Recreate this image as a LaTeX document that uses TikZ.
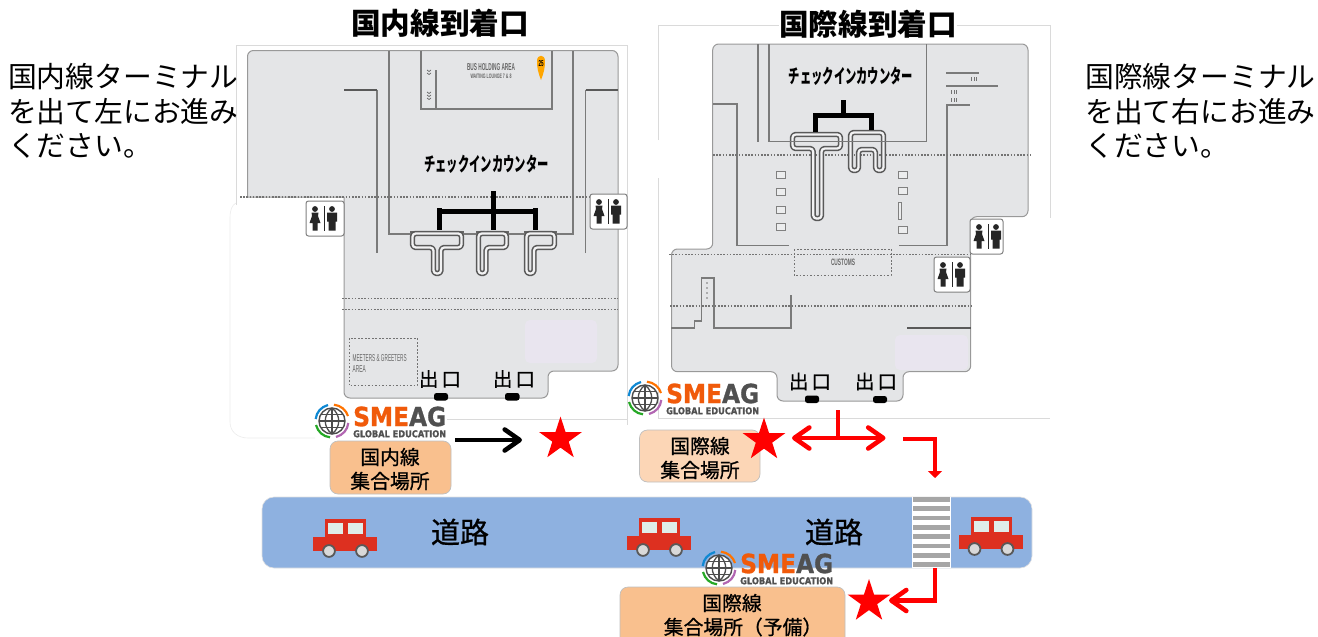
\documentclass[tikz,border=0pt]{standalone}
\usepackage{graphicx}
\usepackage{fontspec}
\setmainfont{Liberation Sans}
\newfontfamily\cjk{Noto Sans CJK JP}
\newfontfamily\cjkm[FakeBold=0.8]{Noto Sans CJK JP}
\newfontfamily\logof[FakeBold=1.2]{DejaVu Sans}
\usetikzlibrary{shapes.geometric,arrows.meta}
\definecolor{floorc}{HTML}{E4E5E7}
\definecolor{wallc}{HTML}{7A7A7A}
\definecolor{roadc}{HTML}{8EB1E0}
\definecolor{boxa}{HTML}{F9C08E}
\definecolor{boxb}{HTML}{FCD6B6}
\definecolor{carc}{HTML}{DD3020}
\definecolor{winc}{HTML}{DFEDE9}
\definecolor{lav}{HTML}{E9E5EF}
\definecolor{paper}{HTML}{DADADA}
\definecolor{smo}{HTML}{F05A0A}
\definecolor{smg}{HTML}{505050}
\tikzset{
 floorp/.style={fill=floorc,draw=gray!80,line width=1pt},
 wall/.style={draw=wallc,line width=1.4pt},
 thickwall/.style={draw=black!65,line width=2.4pt},
 dotline/.style={draw=black!55,line width=1.2pt,dash pattern=on 1.5pt off 1.7pt},
 dashbox/.style={draw=black!55,line width=1pt,dash pattern=on 1.6pt off 1.9pt},
 counterb/.style={draw=black!65,line width=1.6pt,double=floorc!50!white,double distance=2.2pt,rounded corners=3.2pt,line join=round},
 stem/.style={draw=black,line width=5pt},
 exitpill/.style={fill=black,rounded corners=2.5pt},
 sideT/.style={anchor=west,inner sep=0pt,font=\cjk\fontsize{28.8}{32}\selectfont},
 titleT/.style={inner sep=0pt,font=\cjk\bfseries\fontsize{29.6}{32}\selectfont,fill=white},
 checkT/.style={inner sep=0pt,font=\cjk\bfseries\fontsize{19.5}{20}\selectfont},
 exitT/.style={inner sep=0pt,font=\cjkm\fontsize{19.5}{22}\selectfont},
 placebox/.style={draw=black!25,line width=.7pt,rounded corners=8pt},
 placeT/.style={inner sep=0pt,font=\cjkm\fontsize{19.8}{24}\selectfont},
 roadT/.style={inner sep=0pt,font=\cjkm\fontsize{29}{32}\selectfont},
 tinyT/.style={inner sep=0pt,text=black!60},
 redstar/.style={star,star points=5,star point ratio=2.618,fill=red,draw=none,minimum size=45pt,inner sep=0pt},
 redarrow/.style={draw=red,line width=4.8pt},
}
\newcommand{\chk}[3]{\node[checkT] (#1) at (#2,#3) {\scalebox{0.58}[1]{チェックインカウンター}};}
\newcommand{\wcbox}[3]{%
 \begin{scope}[shift={(#1,#2)}]
  \draw[fill=white,draw=black!50,line width=1pt,rounded corners=2.5pt] (0,0) rectangle (#3,35);
  \fill[black!85] (9,8) circle (2.9);
  \fill[black!85] (5.5,11.5) -- (12.5,11.5) -- (12,15) -- (14.5,22) -- (11.5,22) -- (11.5,29.5) -- (6.5,29.5) -- (6.5,22) -- (3.5,22) -- (6,15) -- cycle;
  \fill[black!85] (17.5,5) rectangle (19,30);
  \fill[black!85] (26,8) circle (2.9);
  \fill[black!85] (21,11.5) -- (31,11.5) -- (31,20.5) -- (29.5,20.5) -- (29.5,29.5) -- (22.5,29.5) -- (22.5,20.5) -- (21,20.5) -- cycle;
 \end{scope}}
\newcommand{\smeag}[3]{%
 \begin{scope}[shift={(#2,#3)}]
  \draw[fill=white,draw=black!70,line width=1.4pt] (0,0) circle (13);
  \draw[black!70,line width=1.3pt] (0,-13) -- (0,13) (-13,0) -- (13,0) (-11.3,-6.3) -- (11.3,-6.3) (-11.3,6.3) -- (11.3,6.3);
  \draw[black!70,line width=1.3pt] (0,-13) .. controls (-9,-6) and (-9,6) .. (0,13);
  \draw[black!70,line width=1.3pt] (0,-13) .. controls (9,-6) and (9,6) .. (0,13);
  \draw[cyan!70!blue,line width=2.2pt] (-16.3,-2) .. controls (-15.5,-9) and (-11,-14) .. (-4,-16);
  \draw[orange!90!red,line width=2.2pt] (2,-16.3) .. controls (9,-15.5) and (14,-11) .. (16,-5);
  \draw[violet!60,line width=2.2pt] (16.3,2) .. controls (15.5,9) and (11,14) .. (4,16);
  \draw[green!60!black!85,line width=2.2pt] (-2,16.3) .. controls (-9,15.5) and (-14,11) .. (-16,4);
  \node[inner sep=0pt,anchor=west] (#1a) at (21,-4.5) {\resizebox{93pt}{19.5pt}{\logof\textbf{\textcolor{smo}{SME}\textcolor{smg}{AG}}}};
  \node[inner sep=0pt,anchor=west] (#1b) at (21,12.8) {\resizebox{93pt}{7pt}{\logof\textbf{\textcolor{smg}{GLOBAL EDUCATION}}}};
 \end{scope}}
\newcommand{\car}[2]{%
 \begin{scope}[shift={(#1,#2)}]
  \fill[carc] (0,18) rectangle (64,32);
  \fill[carc] (12,0) rectangle (53,19);
  \fill[winc] (15,4) rectangle (30,15);
  \fill[winc] (35,4) rectangle (50,15);
  \draw[fill=black!15,draw=black!65,line width=1.8pt] (16,32) circle (5.9);
  \draw[fill=black!15,draw=black!65,line width=1.8pt] (49,32) circle (5.9);
 \end{scope}}
\begin{document}
\begin{tikzpicture}[x=1pt,y=-1pt]
\useasboundingbox (0,0) rectangle (1318,637);
% paper edges
\draw[paper,line width=.8pt] (236,205) -- (236,45) -- (627,45) -- (627,425);
\draw[paper,line width=.8pt] (447,419) -- (627,419);
\draw[black!8,line width=.6pt] (236,203) .. controls (232,205) and (230,210) .. (230,218) -- (230,422) .. controls (230,432) and (238,438) .. (248,438) -- (315,438);
\draw[paper,line width=.8pt] (658,140) -- (658,25) -- (1050,25) -- (1050,218);
\draw[paper,line width=.8pt] (658,178) -- (658,418) -- (1050,418);
% domestic floor
\draw[floorp] (344,197) -- (247.5,197) [rounded corners=6pt] -- (247.5,50.5) -- (618,50.5) -- (618,371) -- (548,371) -- (548,398) -- (344,398) -- (344,197);
\fill[lav] (525,320) [rounded corners=5pt] rectangle (597,363);
\draw[wall] (389,50.5) -- (389,234) -- (573,234) -- (573,50.5);
\draw[wall] (421,50.5) -- (421,109) -- (552,109) -- (552,50.5);
\draw[wall] (436,70) -- (436,109);
\draw[wall] (377,90) -- (377,253);
\draw[thickwall] (344,90) -- (377,90);
\draw[wall] (585.5,253) -- (585.5,90);
\draw[thickwall] (585.5,90) -- (618,90);
\draw[dotline] (240,197) -- (618,197);
\draw[dotline] (342,298.6) -- (618,298.6);
\draw[dotline] (342,309.5) -- (618,309.5);
\draw[dashbox] (349,338) rectangle (417,385.5);
\node[tinyT,anchor=west] (meet) at (352.5,358.5) {\resizebox{54pt}{7pt}{MEETERS \& GREETERS}};
\node[tinyT,anchor=west] (meeta) at (352.5,369) {\resizebox{13pt}{7pt}{AREA}};
\node[tinyT] (bus) at (491,67.5) {\resizebox{48pt}{7pt}{\textbf{BUS HOLDING AREA}}};
\node[tinyT] (lounge) at (491,76.5) {\resizebox{41pt}{4.5pt}{\textbf{WAITING LOUNGE 7 \& 8}}};
\foreach \yy in {70,73,92,95,98}{\draw[black!60,line width=.7pt] (427,\yy) -- (429,\yy+1.5) -- (431,\yy);}
\fill[orange!70!yellow] (541,80) .. controls (538,72) and (537,68) .. (537,61) .. controls (537,54) and (545,54) .. (545,61) .. controls (545,68) and (544,72) .. (541,80) -- cycle;
\node[inner sep=0pt] (pin) at (541,64) {\resizebox{5pt}{6pt}{\textbf{25}}};
\draw[black!60,line width=2pt] (410,231.5) -- (464,231.5) (476,231.5) -- (509,231.5) (524,231.5) -- (557,231.5);
\draw[counterb] (412.5,233.5) -- (461.5,233.5) -- (461.5,247.5) -- (441,247.5) -- (441,273.5) -- (433.5,273.5) -- (433.5,247.5) -- (412.5,247.5) -- cycle;
\draw[counterb] (478.5,233.5) -- (506.5,233.5) -- (506.5,247.5) -- (486,247.5) -- (486,273.5) -- (478.5,273.5) -- cycle;
\draw[counterb] (526.5,233.5) -- (554.5,233.5) -- (554.5,247.5) -- (534,247.5) -- (534,273.5) -- (526.5,273.5) -- cycle;
\draw[stem] (493,191) -- (493,230);
\draw[stem] (439,211) -- (535,211);
\draw[stem] (439,208) -- (439,230);
\draw[stem] (535,208) -- (535,230);
\chk{chkd}{486.5}{164}
\wcbox{306}{201}{38}
\wcbox{590}{194}{37}
\node[exitT] (exa) at (440,379) {出\hspace{3pt}口};
\node[exitT] (exb) at (514,379) {出\hspace{3pt}口};
\fill[exitpill] (434,393) rectangle (448,400.5);
\fill[exitpill] (505,393) rectangle (519.5,400.5);
% international floor
\draw[floorp,rounded corners=6pt] (671.5,306) -- (671.5,249) -- (712.7,249) -- (712.7,44) -- (1028,44) -- (1028,216.7) -- (970.7,216.7) -- (970.7,371.7) -- (903,371.7) -- (903,401) -- (777,401) -- (777,371.7) -- (671.5,371.7) -- cycle;
\fill[lav] (895,335) [rounded corners=5pt] rectangle (968,370);
\draw[wall] (758,44) -- (758,142);
\draw[wall] (769,44) -- (769,141.5) -- (926.5,141.5) -- (926.5,44);
\draw[wall] (713,104) -- (737,104) -- (737,245.5) -- (789,245.5);
\draw[wall] (899,245.5) -- (947,245.5) -- (947,105) -- (970,105);
\draw[wall,line width=1.1pt] (946,73) -- (979,73);
\draw[wall] (946,86) -- (998,86);
\draw[wall] (671,328) -- (694.7,328) -- (694.7,321) -- (701.7,321) -- (701.7,278) -- (714,278) -- (714,328) -- (791,328) -- (791,295);
\draw[thickwall] (907,328) -- (970.7,328);
\foreach \yy in {283,288,293,298}{\fill[black!55] (707,\yy) circle (.9);}
\foreach \xx in {971,973.5,976}{\fill[black!55] (\xx,77) rectangle +(.7,4);}
\foreach \xx in {951,953.5,956}{\fill[black!55] (\xx,90) rectangle +(.7,4);\fill[black!55] (\xx,98) rectangle +(.7,4);}
\draw[dotline] (713,155) -- (1031,155);
\draw[dotline] (669,254.5) -- (970,254.5);
\draw[dotline] (670,306) -- (972,306);
\draw[dashbox] (794,249) rectangle (891,275);
\node[tinyT] (customs) at (843,262.5) {\resizebox{24pt}{6.5pt}{\textbf{CUSTOMS}}};
\foreach \yy in {175,192,209.5,226.5}{\draw[black!50,fill=floorc!70!white,line width=.9pt] (776,\yy-3.5) rectangle (785,\yy+3.5);}
\foreach \yy in {175,191,230}{\draw[black!50,fill=floorc!70!white,line width=.9pt] (898,\yy-3.5) rectangle (907,\yy+3.5);}
\draw[black!50,fill=floorc!70!white,line width=.9pt] (898,202.5) rectangle (901.5,219);
\draw[counterb] (792.5,134.5) -- (840.5,134.5) -- (840.5,148.5) -- (821.5,148.5) -- (821.5,218.5) -- (813.2,218.5) -- (813.2,148.5) -- (792.5,148.5) -- cycle;
\draw[counterb] (850.5,132.5) -- (883.5,132.5) -- (883.5,170.5) -- (875.5,170.5) -- (875.5,149.5) -- (858.5,149.5) -- (858.5,170.5) -- (850.5,170.5) -- cycle;
\draw[wall,line width=1pt] (769,141.5) -- (926.5,141.5);
\draw[stem] (843,100) -- (843,115);
\draw[stem] (815,132) -- (815,115) -- (871,115) -- (871,130);
\chk{chki}{851}{76}
\wcbox{970}{219}{33}
\wcbox{934}{257}{36}
\node[exitT] (exc) at (810,381.5) {出\hspace{3pt}口};
\node[exitT] (exd) at (876,381.5) {出\hspace{3pt}口};
\fill[exitpill] (805,395.5) rectangle (819,403);
\fill[exitpill] (873,396) rectangle (887,403);
% titles
\node[titleT] (titled) at (440,23) {国内線到着口};
\node[titleT] (titlei) at (868,24) {国際線到着口};
% side texts
\node[sideT] (la) at (8,77) {国内線ターミナル};
\node[sideT] (lb) at (8,112) {を出て左にお進み};
\node[sideT] (lc) at (8,146) {ください。};
\node[sideT] (ra) at (1085,77) {国際線ターミナル};
\node[sideT] (rb) at (1085,112) {を出て右にお進み};
\node[sideT] (rc) at (1085,146) {ください。};
% road
\draw[fill=roadc,draw=black!12,line width=.6pt,rounded corners=12pt] (262,497) rectangle (1032,568);
\fill[white] (911.7,497) rectangle (950.7,568);
\foreach \ii in {0,...,7}{\fill[black!35] (913,497+9.35*\ii) rectangle (950,501.6+9.35*\ii);}
\car{313}{519}
\car{627}{518}
\car{958.5}{517}
\node[roadT] (roada) at (460,532) {道路};
\node[roadT] (roadb) at (834,532) {道路};
% logos
\smeag{la1}{332}{421}
\smeag{la2}{645}{398}
\smeag{la3}{719}{568}
% meeting boxes
\draw[placebox,fill=boxa] (330,441) rectangle (451,494);
\node[placeT] (paa) at (390,457) {国内線};
\node[placeT] (pab) at (390,481) {集合場所};
\draw[placebox,fill=boxb] (639.5,430) rectangle (760,482);
\node[placeT] (pba) at (700,446) {国際線};
\node[placeT] (pbb) at (700,470) {集合場所};
\draw[placebox,fill=boxa] (620,587) rectangle (845,650);
\node[placeT] (pca) at (732,603) {国際線};
\node[placeT] (pcb) at (743,627) {集合場所（予備）};
% stars
\node[redstar] (sa) at (560.5,439) {};
\node[redstar] (sb) at (764,440) {};
\node[redstar] (sc) at (869,601.5) {};
% arrows
\coordinate (ka) at (455,440);
\coordinate (kb) at (522,440);
\draw[draw=black,line width=4.6pt,-{Straight Barb[length=15pt,width=21pt,line width=4.6pt,round]}] (ka) -- (kb);
\coordinate (ra) at (838,410);
\coordinate (rb) at (838,438);
\coordinate (rl) at (792,438);
\coordinate (rr) at (885.5,438);
\draw[redarrow,-{Straight Barb[length=15pt,width=21pt,line width=4.6pt,round]}] (rb) -- (rl);
\draw[redarrow,-{Straight Barb[length=15pt,width=21pt,line width=4.6pt,round]}] (rb) -- (rr);
\draw[redarrow] (ra) -- (rb);
\coordinate (da) at (903,439);
\coordinate (db) at (935,439);
\coordinate (dc) at (935,478);
\draw[redarrow,-{Triangle[length=7pt,width=14pt]}] (da) -- (db) -- (dc);
\coordinate (ea) at (935,568);
\coordinate (eb) at (935,600.5);
\coordinate (ec) at (889,600.5);
\draw[redarrow,-{Straight Barb[length=15pt,width=21pt,line width=4.6pt,round]}] (ea) -- (eb) -- (ec);
\end{tikzpicture}
\end{document}
